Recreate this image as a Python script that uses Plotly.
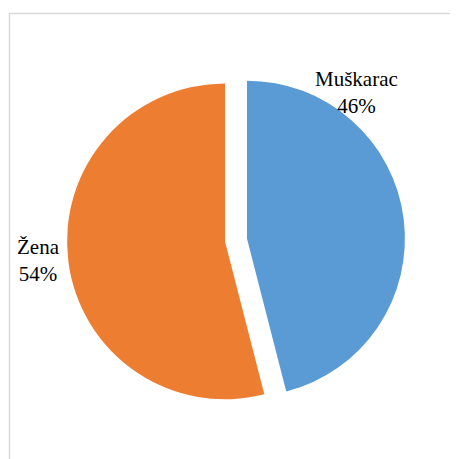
import plotly.graph_objects as go

labels = ["Muškarac", "Žena"]
values = [46, 54]
colors = ["#5B9BD5", "#ED7D31"]

total = sum(values)
pcts = [round(v / total * 100) for v in values]

W, H = 458, 459
OFF = 8  # page body margin offset

def px_x(x):
    return (x - OFF) / W

def px_y(y):
    return 1 - (y - OFF) / H

fig = go.Figure(go.Pie(
    labels=labels,
    values=values,
    sort=False,
    direction="clockwise",
    rotation=0,
    pull=[0.07, 0.07],
    marker=dict(colors=colors, line=dict(width=0)),
    textinfo="none",
    hoverinfo="label+percent",
    showlegend=False,
    domain=dict(x=[px_x(67), px_x(405)], y=[px_y(409), px_y(71)]),
))

label_pos = [(356, 93), (38, 260)]
anns = []
for lab, p, (px, py) in zip(labels, pcts, label_pos):
    anns.append(dict(
        x=px_x(px), y=px_y(py), xref="paper", yref="paper",
        text=f"{lab}<br>{p}%", showarrow=False, align="center",
        xanchor="center", yanchor="middle",
        font=dict(family="Liberation Serif", size=21, color="#000000"),
    ))

fig.update_layout(
    width=W, height=H,
    margin=dict(l=0, r=0, t=0, b=0),
    paper_bgcolor="#ffffff",
    plot_bgcolor="#ffffff",
    annotations=anns,
    shapes=[dict(
        type="rect", xref="paper", yref="paper",
        x0=px_x(9.5), x1=1.1, y0=-0.1, y1=px_y(13.5),
        line=dict(color="#d9d9d9", width=1.5), fillcolor="rgba(0,0,0,0)",
        layer="below",
    )],
)

fig.write_html("out.html")
